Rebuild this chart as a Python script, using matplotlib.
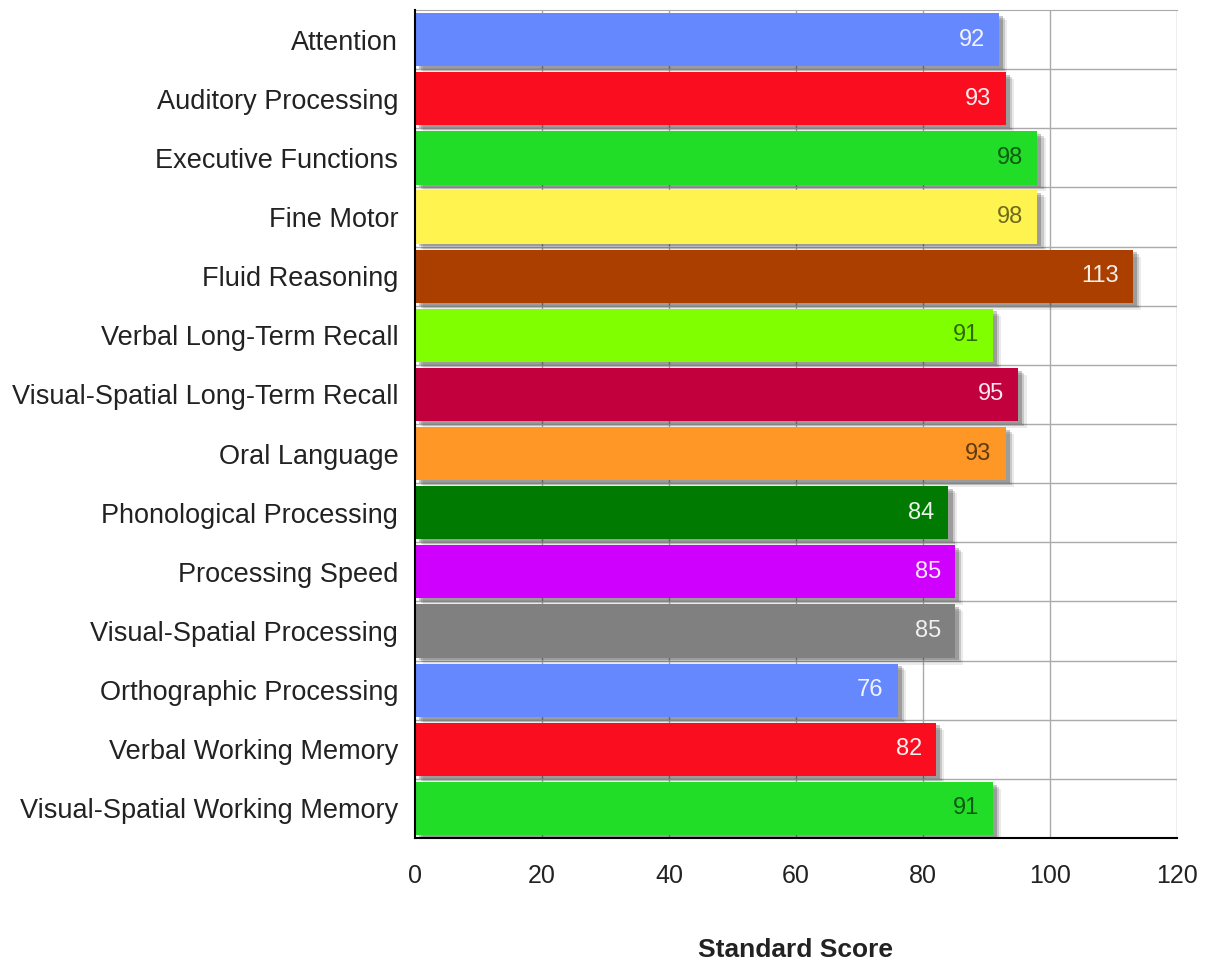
import matplotlib.pyplot as plt
import matplotlib.patheffects as pe

categories = [
    "Attention",
    "Auditory Processing",
    "Executive Functions",
    "Fine Motor",
    "Fluid Reasoning",
    "Verbal Long-Term Recall",
    "Visual-Spatial Long-Term Recall",
    "Oral Language",
    "Phonological Processing",
    "Processing Speed",
    "Visual-Spatial Processing",
    "Orthographic Processing",
    "Verbal Working Memory",
    "Visual-Spatial Working Memory",
]
scores = [92, 93, 98, 98, 113, 91, 95, 93, 84, 85, 85, 76, 82, 91]
bar_colors = [
    "#6688ff", "#fa0d1e", "#22dd28", "#fff34f", "#aa3f00", "#80ff00", "#c2003e",
    "#ff9726", "#007a00", "#d000ff", "#808080", "#6688ff", "#fa0d1e", "#22dd28",
]
label_colors = [
    "#f4f4ff", "#fff0f0", "#0d5a10", "#6e6a20", "#f6eee8", "#2f6a00", "#fbe8ee",
    "#5c3a12", "#e8f4e8", "#fbeaff", "#f0f0f0", "#f4f4ff", "#fff0f0", "#0d5a10",
]

plt.rcParams['font.family'] = ['Liberation Sans', 'DejaVu Sans']

fig = plt.figure(figsize=(12.08, 9.65), dpi=100)
ax = fig.add_axes([0.3435, 0.1316, 0.6308, 0.858])

y = list(range(len(categories)))
bars = ax.barh(y, scores, height=0.9, color=bar_colors, zorder=3)
# soft drop shadow, stacked
for b in bars:
    b.set_path_effects([
        pe.SimplePatchShadow(offset=(6, -5), shadow_rgbFace='black', alpha=0.08),
        pe.SimplePatchShadow(offset=(4.5, -3.5), shadow_rgbFace='black', alpha=0.15),
        pe.SimplePatchShadow(offset=(3, -2), shadow_rgbFace='black', alpha=0.22),
        pe.Normal(),
    ])

for yi, v, c in zip(y, scores, label_colors):
    ax.annotate(str(v), (v, yi), xytext=(-10, 0), textcoords='offset points',
                ha='right', va='center', fontsize=17, color=c, zorder=5)

ax.set_xlim(0, 120)
ax.set_ylim(len(categories) - 0.5, -0.5)
ax.set_yticks(y)
ax.set_yticklabels(categories, fontsize=19.5, color='#222222')
ax.set_xticks(range(0, 121, 20))
ax.tick_params(axis='x', length=0, pad=19, labelsize=18, labelcolor='#222222')
ax.tick_params(axis='y', length=0, pad=12)

for xv in range(20, 121, 20):
    ax.axvline(xv, color='#aaaaaa', lw=1, zorder=1)
for yb in range(len(categories) - 1):
    ax.axhline(yb + 0.5, color='#aaaaaa', lw=1, zorder=1)

ax.spines['top'].set_color('#aaaaaa')
ax.spines['right'].set_visible(False)
ax.spines['left'].set_color('black')
ax.spines['left'].set_linewidth(1.5)
ax.spines['bottom'].set_color('black')
ax.spines['bottom'].set_linewidth(1.5)
ax.spines['left'].set_zorder(4)

ax.set_xlabel("Standard Score", fontsize=19, fontweight='bold', color='#222222', labelpad=36)

fig.savefig("out.png", dpi=100)
